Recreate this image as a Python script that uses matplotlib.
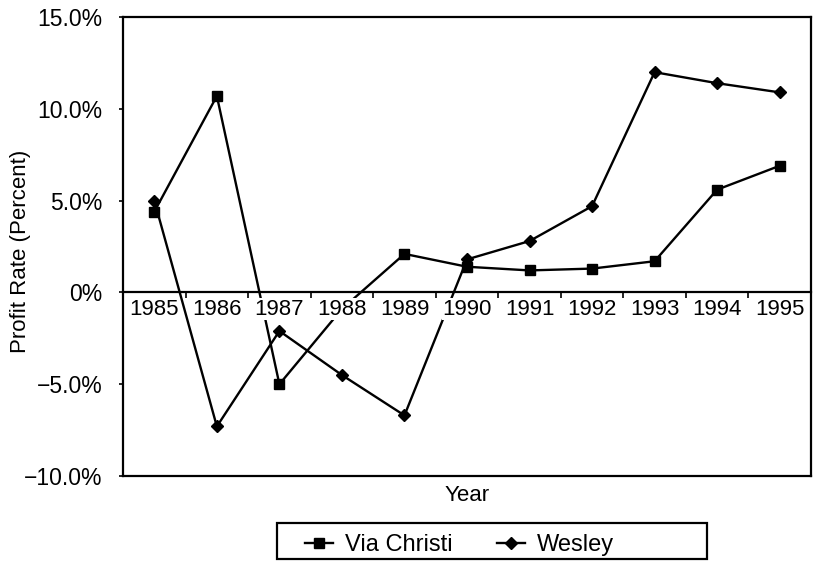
import matplotlib
matplotlib.use("Agg")
import matplotlib.pyplot as plt
from matplotlib.patches import Rectangle
import numpy as np

plt.rcParams['font.family'] = ['Liberation Sans', 'DejaVu Sans']

years = ['1985', '1986', '1987', '1988', '1989', '1990', '1991', '1992', '1993', '1994', '1995']
via_christi = [4.4, 10.7, -5.0, -0.9, 2.1, 1.4, 1.2, 1.3, 1.7, 5.6, 6.9]
wesley = [5.0, -7.3, -2.1, -4.5, -6.7, 1.8, 2.8, 4.7, 12.0, 11.4, 10.9]
y_ticks = [-10, -5, 0, 5, 10, 15]
y_tick_labels = ['\u221210.0%', '\u22125.0%', '0%', '5.0%', '10.0%', '15.0%']

fig = plt.figure(figsize=(8.15, 5.61), dpi=100)
ax = fig.add_axes([0.151, 0.1515, 0.844, 0.818])

x = np.arange(len(years))
ax.plot(x, via_christi, color='black', lw=1.7, marker='s', markersize=6.5, label='Via Christi', zorder=2)
ax.plot(x, wesley, color='black', lw=1.7, marker='D', markersize=6, label='Wesley', zorder=2)

ax.set_xlim(-0.5, len(years) - 0.5)
ax.set_ylim(-10, 15)

# Box frame; bottom spine sits at zero
for s in ['left', 'right', 'top', 'bottom']:
    ax.spines[s].set_linewidth(1.6)
ax.spines['bottom'].set_position(('data', 0))
ax.axhline(-10, color='black', lw=1.6, clip_on=False, zorder=3)

ax.set_axisbelow(False)

# x ticks: boundary marks, labels at category centers
ax.set_xticks(np.arange(0.5, len(years) - 1, 1.0))
ax.set_xticklabels([])
ax.tick_params(axis='x', which='major', direction='out', length=4, width=1.2)
ax.set_xticks(x, minor=True)
ax.set_xticklabels(years, minor=True, fontsize=16)
ax.tick_params(axis='x', which='minor', length=0, pad=4.5)
for lbl in ax.get_xticklabels(minor=True):
    lbl.set_bbox(dict(facecolor='white', edgecolor='none', pad=0.5))

ax.set_yticks(y_ticks)
ax.set_yticklabels(y_tick_labels, fontsize=16.5)
ax.tick_params(axis='y', direction='out', length=3, width=1.2, pad=12)

ax.set_ylabel('Profit Rate (Percent)', fontsize=16)
ax.yaxis.set_label_coords(-0.134, 0.49)
fig.text(0.573, 0.117, 'Year', ha='center', va='center', fontsize=16)

# Legend with a separate rectangular frame
fig.patches.append(Rectangle((277 / 815, 0.004), (707 - 277) / 815, 1 - 523 / 561 - 0.004,
                             transform=fig.transFigure, facecolor='white',
                             edgecolor='black', lw=1.6, zorder=0))
leg = fig.legend(loc='center left', bbox_to_anchor=(305 / 815, 1 - 545 / 561), ncol=2, fontsize=17,
                 frameon=False, handlelength=1.2, handletextpad=0.5,
                 columnspacing=1.88, borderpad=0, borderaxespad=0)

fig.savefig('out.png', dpi=100)
